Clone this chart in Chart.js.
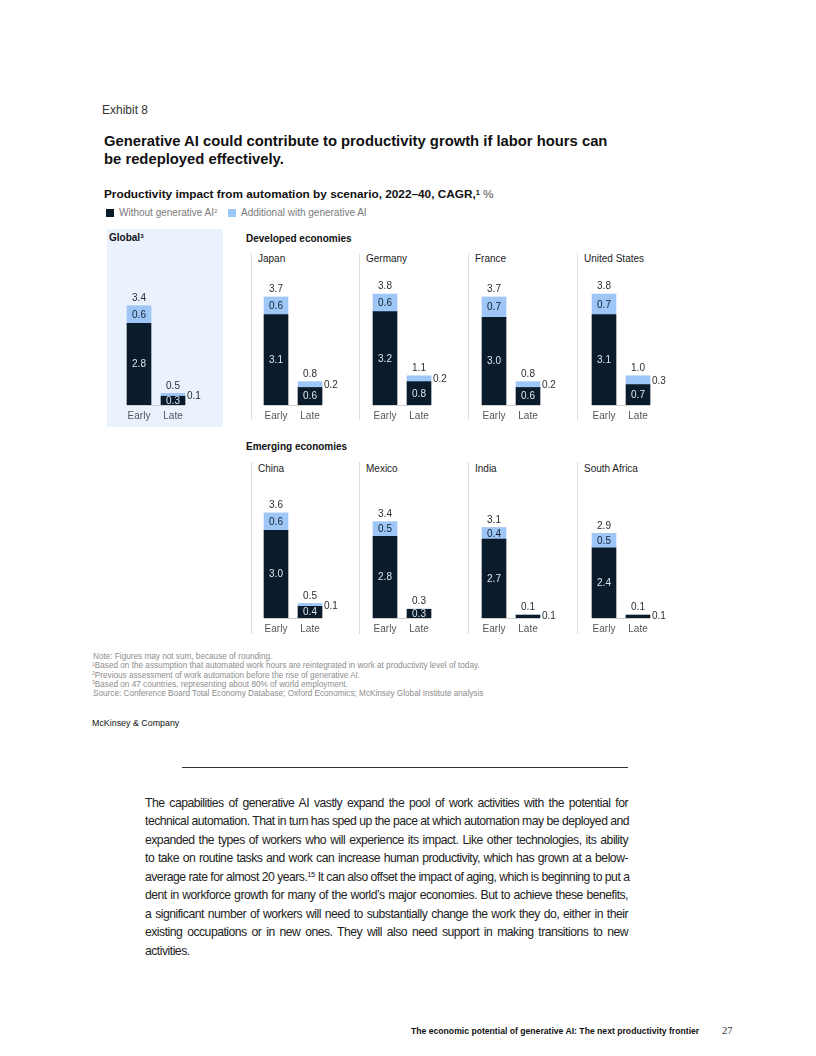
<!DOCTYPE html>
<html>
<head>
<meta charset="utf-8">
<title>Exhibit 8</title>
<script src="https://cdn.jsdelivr.net/npm/chart.js@4.4.0/dist/chart.umd.min.js"></script>
<style>
    body { margin: 0; background: #fff; }
    #page { position: relative; width: 816px; height: 1056px; overflow: hidden; font-family: "Liberation Sans", Arial, sans-serif; color: #1b1b1b; }
    .t { position: absolute; white-space: nowrap; line-height: 1; }
    .b { font-weight: bold; }
    sup { font-size: 62%; vertical-align: 0; position: relative; top: -0.45em; line-height: 0; }
    .divider { position: absolute; width: 1px; background: #dedede; }
    .sq { position: absolute; width: 8px; height: 8px; }
    canvas { position: absolute; }
    .note { font-size: 8.2px; color: #8d8d8d; left: 92px; }
    #body { position: absolute; left: 145px; top: 793.5px; width: 483px; font-size: 12.2px; line-height: 18.5px; letter-spacing: -0.5px; color: #222; }
    #body span { display: block; white-space: nowrap; text-align: justify; text-align-last: justify; }
    #body span.last { text-align-last: left; }
</style>
</head>
<body>
<div id="page">
    <div class="t" style="left:102px;top:103.6px;font-size:12px;color:#333;">Exhibit 8</div>
    <div class="t b" style="left:104px;top:132px;font-size:14.8px;line-height:18px;color:#111;">Generative AI could contribute to productivity growth if labor hours can<br>be redeployed effectively.</div>
    <div class="t b" style="left:104px;top:188.8px;font-size:11.8px;color:#111;">Productivity impact from automation by scenario, 2022–40, CAGR,<sup>1</sup> <span style="font-weight:normal;color:#555;">%</span></div>

    <div class="sq" style="left:106px;top:209px;background:#0a1b2b;"></div>
    <div class="t" style="left:119px;top:207.7px;font-size:10px;color:#7a7a7a;">Without generative AI<sup>2</sup></div>
    <div class="sq" style="left:228px;top:209px;background:#9ec6f6;"></div>
    <div class="t" style="left:241px;top:207.7px;font-size:10px;color:#7a7a7a;">Additional with generative AI</div>

    <div style="position:absolute;left:107px;top:229px;width:116px;height:198px;background:#eaf3fd;"></div>
    <div class="t b" style="left:109px;top:232.7px;font-size:10px;color:#111;">Global<sup>3</sup></div>
    <div class="t b" style="left:246px;top:233.7px;font-size:10px;color:#111;">Developed economies</div>
    <div class="t b" style="left:246px;top:441.7px;font-size:10px;color:#111;">Emerging economies</div>

    <div class="t note" style="left:93px;top:652.6px;">Note: Figures may not sum, because of rounding.</div>
    <div class="t note" style="top:662.1px;"><sup>1</sup>Based on the assumption that automated work hours are reintegrated in work at productivity level of today.</div>
    <div class="t note" style="top:671.6px;"><sup>2</sup>Previous assessment of work automation before the rise of generative AI.</div>
    <div class="t note" style="top:680.6px;"><sup>3</sup>Based on 47 countries, representing about 80% of world employment.</div>
    <div class="t note" style="left:93px;top:689.6px;">Source: Conference Board Total Economy Database; Oxford Economics; McKinsey Global Institute analysis</div>

    <div class="t" style="left:92px;top:719.3px;font-size:8.9px;color:#111;">McKinsey &amp; Company</div>

    <div style="position:absolute;left:182px;top:767px;width:446px;height:1px;background:#333;"></div>

    <div id="body">
        <span>The capabilities of generative AI vastly expand the pool of work activities with the potential for</span>
        <span>technical automation. That in turn has sped up the pace at which automation may be deployed and</span>
        <span>expanded the types of workers who will experience its impact. Like other technologies, its ability</span>
        <span>to take on routine tasks and work can increase human productivity, which has grown at a below-</span>
        <span>average rate for almost 20 years.<sup>15</sup> It can also offset the impact of aging, which is beginning to put a</span>
        <span>dent in workforce growth for many of the world’s major economies. But to achieve these benefits,</span>
        <span>a significant number of workers will need to substantially change the work they do, either in their</span>
        <span>existing occupations or in new ones. They will also need support in making transitions to new</span>
        <span class="last">activities.</span>
    </div>

    <div class="t b" style="left:411px;top:1026.5px;font-size:8.65px;color:#111;">The economic potential of generative AI: The next productivity frontier</div>
    <div class="t" style="left:722px;top:1025.5px;font-size:10.5px;color:#333;font-family:'Liberation Serif',serif;">27</div>
</div>

<script>
// Chart data
const panels = ['Global', 'Japan', 'Germany', 'France', 'United States', 'China', 'Mexico', 'India', 'South Africa'];
const scenarios = ['Early', 'Late'];
const withoutEarly = [2.8, 3.1, 3.2, 3.0, 3.1, 3.0, 2.8, 2.7, 2.4];
const additionalEarly = [0.6, 0.6, 0.6, 0.7, 0.7, 0.6, 0.5, 0.4, 0.5];
const totalEarly = [3.4, 3.7, 3.8, 3.7, 3.8, 3.6, 3.4, 3.1, 2.9];
const withoutLate = [0.3, 0.6, 0.8, 0.6, 0.7, 0.4, 0.3, 0.1, 0.1];
const additionalLate = [0.1, 0.2, 0.2, 0.2, 0.3, 0.1, 0.0, 0.0, 0.0];
const totalLate = [0.5, 0.8, 1.1, 0.8, 1.0, 0.5, 0.3, 0.1, 0.1];
const additionalLateLabel = ['0.1', '0.2', '0.2', '0.2', '0.3', '0.1', '', '0.1', '0.1'];

// Layout
const DARK = '#0a1b2b';
const LIGHT = '#9ec6f6';
const PX_PER_UNIT = 29.2;
const PLOT_H = 125;
const AXIS_H = 16;
const PAD_L = 12, PAD_R = 28, CAT_W = 34;
const earlyX = [138.7, 276.3, 385, 494.3, 603.5, 276.3, 385, 494.3, 603.5];
const baseY = [405, 405, 405, 405, 405, 618, 618, 618, 618];
const dividerX = [251, 359, 468, 577];

Chart.defaults.font.family = '"Liberation Sans", Arial, sans-serif';
Chart.defaults.font.size = 10;
Chart.defaults.color = '#555';

const page = document.getElementById('page');

// dividers + country names
for (let i = 1; i < panels.length; i++) {
    const col = (i - 1) % 4;
    const row = i <= 4 ? 0 : 1;
    const div = document.createElement('div');
    div.className = 'divider';
    div.style.left = dividerX[col] + 'px';
    div.style.top = (row === 0 ? 253 : 462) + 'px';
    div.style.height = (row === 0 ? 167 : 172) + 'px';
    page.appendChild(div);

    const name = document.createElement('div');
    name.className = 't';
    name.style.cssText = 'left:' + (dividerX[col] + 7) + 'px;top:' + (row === 0 ? 254.2 : 464.2) + 'px;font-size:10px;color:#222;';
    name.textContent = panels[i];
    page.appendChild(name);
}

const barLabels = {
    id: 'barLabels',
    afterDatasetsDraw(chart, args, opts) {
        const i = opts.panel;
        const ctx = chart.ctx;
        const lower = chart.getDatasetMeta(0).data;
        const upper = chart.getDatasetMeta(1).data;
        const totals = [totalEarly[i], totalLate[i]];
        ctx.save();
        ctx.font = '10px "Liberation Sans", Arial, sans-serif';
        ctx.textBaseline = 'middle';

        // baseline under the two bars
        const b0 = lower[0].getProps(['x', 'base', 'width'], true);
        const b1 = lower[1].getProps(['x', 'base', 'width'], true);
        ctx.strokeStyle = '#cfcfcf';
        ctx.lineWidth = 1;
        ctx.beginPath();
        ctx.moveTo(b0.x - b0.width / 2, Math.round(b0.base) + 0.5);
        ctx.lineTo(b1.x + b1.width / 2, Math.round(b0.base) + 0.5);
        ctx.stroke();

        for (let j = 0; j < 2; j++) {
            const lo = lower[j].getProps(['x', 'y', 'base', 'width'], true);
            const up = upper[j].getProps(['x', 'y', 'base', 'width'], true);
            const loVal = chart.data.datasets[0].data[j];
            const upVal = chart.data.datasets[1].data[j];

            // value inside dark segment
            if (lo.base - lo.y >= 8) {
                ctx.fillStyle = '#dfe6ee';
                ctx.textAlign = 'center';
                ctx.fillText(loVal.toFixed(1), lo.x, (lo.y + lo.base) / 2 + 0.5);
            }
            // additional: inside on early, beside on late
            if (j === 0) {
                ctx.fillStyle = '#10202f';
                ctx.textAlign = 'center';
                ctx.fillText(upVal.toFixed(1), up.x, (up.y + up.base) / 2 + 0.5);
            } else if (additionalLateLabel[i]) {
                ctx.fillStyle = '#2e2e2e';
                ctx.textAlign = 'left';
                ctx.fillText(additionalLateLabel[i], up.x + up.width / 2 + 2, (up.y + up.base) / 2 + 1);
            }
            // total on top
            ctx.fillStyle = '#2e2e2e';
            ctx.textAlign = 'center';
            ctx.fillText(totals[j].toFixed(1), up.x, Math.min(up.y, lo.y) - 7.5);
        }
        ctx.restore();
    }
};

panels.forEach(function (name, i) {
    const canvas = document.createElement('canvas');
    const w = PAD_L + CAT_W * 2 + PAD_R;
    const h = PLOT_H + AXIS_H;
    canvas.width = w;
    canvas.height = h;
    canvas.style.width = w + 'px';
    canvas.style.height = h + 'px';
    canvas.style.left = (earlyX[i] - CAT_W / 2 - PAD_L) + 'px';
    canvas.style.top = (baseY[i] - PLOT_H) + 'px';
    page.appendChild(canvas);

    new Chart(canvas, {
        type: 'bar',
        data: {
            labels: scenarios,
            datasets: [
                {
                    label: 'Without generative AI',
                    data: [withoutEarly[i], withoutLate[i]],
                    backgroundColor: DARK,
                    barThickness: 24
                },
                {
                    label: 'Additional with generative AI',
                    data: [additionalEarly[i], additionalLate[i]],
                    backgroundColor: LIGHT,
                    barThickness: 24
                }
            ]
        },
        options: {
            responsive: false,
            animation: false,
            events: [],
            layout: { padding: { left: PAD_L, right: PAD_R, top: 0, bottom: 0 } },
            plugins: {
                legend: { display: false },
                tooltip: { enabled: false },
                barLabels: { panel: i }
            },
            scales: {
                x: {
                    stacked: true,
                    grid: { display: false, drawTicks: false },
                    border: { display: false },
                    ticks: { padding: 5, color: '#555', maxRotation: 0, font: { size: 10 } },
                    afterFit: function (scale) { scale.height = AXIS_H; }
                },
                y: {
                    stacked: true,
                    display: false,
                    min: 0,
                    max: PLOT_H / PX_PER_UNIT
                }
            }
        },
        plugins: [barLabels]
    });
});
</script>
</body>
</html>
